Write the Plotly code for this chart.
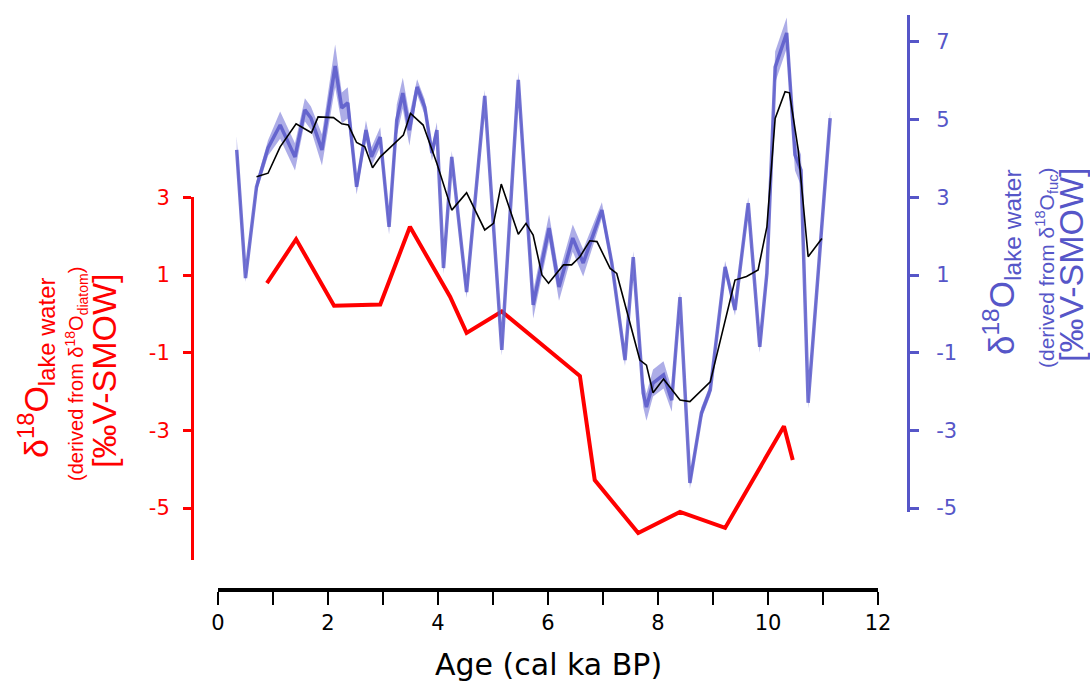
import plotly.graph_objects as go

# ---------------- data ----------------
age_fuc = [0.34, 0.50, 0.70, 0.91, 1.13, 1.40, 1.58, 1.69, 1.89, 2.13,
           2.25, 2.36, 2.52, 2.69, 2.79, 2.95, 3.11, 3.25, 3.36, 3.48,
           3.62, 3.76, 3.89, 3.98, 4.10, 4.25, 4.52, 4.85, 5.16, 5.46,
           5.73, 6.02, 6.20, 6.45, 6.64, 6.98, 7.16, 7.40, 7.55, 7.73,
           7.79, 7.91, 8.10, 8.25, 8.40, 8.58, 8.79, 8.95, 9.22, 9.40,
           9.64, 9.85, 9.98, 10.13, 10.34, 10.49, 10.60, 10.73, 11.13]
d18o_fuc = [4.22, 0.92, 3.27, 4.27, 4.86, 4.04, 5.25, 5.04, 4.22, 6.38,
            5.30, 5.43, 3.27, 4.73, 4.04, 4.55, 2.24, 4.99, 5.68, 4.73,
            5.84, 5.32, 4.14, 4.73, 1.18, 4.04, 0.56, 5.61, -0.93, 6.02,
            0.23, 2.21, 0.69, 1.95, 1.31, 2.67, 1.31, -1.19, 1.46, -2.04,
            -2.40, -1.78, -1.57, -2.22, 0.43, -4.35, -2.55, -1.96, 1.21, 0.10,
            2.85, -0.85, 1.05, 6.35, 7.23, 4.09, 3.70, -2.29, 5.04]
err_fuc = [0.35, 0.10, 0.15, 0.20, 0.35, 0.35, 0.30, 0.30, 0.40, 0.55,
           0.40, 0.40, 0.20, 0.25, 0.25, 0.25, 0.20, 0.40, 0.40, 0.40,
           0.20, 0.20, 0.20, 0.20, 0.15, 0.15, 0.15, 0.15, 0.15, 0.20,
           0.35, 0.35, 0.35, 0.35, 0.35, 0.20, 0.15, 0.15, 0.15, 0.35,
           0.35, 0.35, 0.35, 0.30, 0.15, 0.15, 0.15, 0.15, 0.15, 0.15,
           0.15, 0.15, 0.15, 0.40, 0.40, 0.40, 0.40, 0.15, 0.20]

age_smooth = [0.70, 0.91, 1.13, 1.42, 1.70, 1.82, 2.10, 2.25, 2.37, 2.52,
              2.67, 2.81, 2.95, 3.19, 3.37, 3.50, 3.73, 3.98, 4.25, 4.52,
              4.85, 5.01, 5.15, 5.46, 5.60, 5.73, 5.89, 6.01, 6.28, 6.43,
              6.58, 6.76, 6.89, 7.13, 7.25, 7.67, 7.79, 7.91, 8.10, 8.40,
              8.58, 8.95, 9.13, 9.40, 9.61, 9.82, 9.98, 10.13, 10.31, 10.39,
              10.55, 10.73, 10.98]
d18o_smooth = [3.53, 3.62, 4.30, 4.89, 4.66, 5.07, 5.05, 4.89, 4.86, 4.41,
               4.30, 3.76, 4.04, 4.35, 4.60, 5.16, 4.86, 3.87, 2.67, 3.12,
               2.16, 2.33, 3.34, 2.05, 2.33, 2.03, 1.00, 0.79, 1.26, 1.26,
               1.47, 1.88, 1.86, 1.17, 1.04, -1.19, -1.32, -2.03, -1.68, -2.22,
               -2.26, -1.75, -0.67, 0.87, 0.96, 1.13, 2.24, 5.03, 5.72, 5.69,
               4.22, 1.47, 1.94]

age_diatom = [0.89, 1.42, 2.11, 2.95, 3.49, 4.22, 4.52, 5.16, 6.58, 6.85,
              7.64, 8.40, 9.22, 10.29, 10.45]
d18o_diatom = [0.79, 1.92, 0.21, 0.24, 2.24, 0.44, -0.49, 0.06, -1.60, -4.28,
               -5.64, -5.10, -5.51, -2.89, -3.76]

left_ticks = [-5, -3, -1, 1, 3]
left_ticktext = ["-5", "-3", "-1", "1", "3"]
right_ticks = [-5, -3, -1, 1, 3, 5, 7]
right_ticktext = ["-5", "-3", "-1", "1", "3", "5", "7"]

# ---------------- layout geometry (pixels) ----------------
W_FIG, H_FIG = 1090, 684
PL, PR, PT, PB = 192, 908, 15, 590
PW, PH = PR - PL, PB - PT
X0_PX, X12_PX = 218, 878
Y1_PX, PX_PER_UNIT = 275.0, 38.85   # pixel of value 1 and px per unit (shared scale)


def val_at(py):
    return 1 - (py - Y1_PX) / PX_PER_UNIT


def pxfrac(px):
    return (px - PL) / PW


def pyfrac(py):
    return (PB - py) / PH


RED = "#ff0000"
BLUE = "#5656c8"
FONT_T = "DejaVu Sans, Verdana, sans-serif"
FONT_L = "Liberation Sans, Arial, sans-serif"

left_top_px = Y1_PX - (3 - 1) * PX_PER_UNIT
left_bot_px = 560
right_top_px = 15
right_bot_px = 512

fig = go.Figure()

# error band of fucoxanthin-derived record
band_x = age_fuc + age_fuc[::-1]
band_y = [v + e for v, e in zip(d18o_fuc, err_fuc)] + \
         [v - e for v, e in zip(d18o_fuc, err_fuc)][::-1]
fig.add_trace(go.Scatter(x=band_x, y=band_y, xaxis="x", yaxis="y2",
                         fill="toself", fillcolor="rgba(105,105,212,0.55)",
                         line=dict(width=0), mode="lines", hoverinfo="skip",
                         showlegend=False))
fig.add_trace(go.Scatter(x=age_fuc, y=d18o_fuc, xaxis="x", yaxis="y2",
                         mode="lines", line=dict(color="rgba(85,85,200,0.82)", width=3.5),
                         showlegend=False))
fig.add_trace(go.Scatter(x=age_smooth, y=d18o_smooth, xaxis="x", yaxis="y2",
                         mode="lines", line=dict(color="black", width=1.6),
                         showlegend=False))
fig.add_trace(go.Scatter(x=age_diatom, y=d18o_diatom, xaxis="x", yaxis="y",
                         mode="lines", line=dict(color=RED, width=4),
                         showlegend=False))

fig.update_layout(
    width=W_FIG, height=H_FIG,
    margin=dict(l=PL, r=W_FIG - PR, t=PT, b=H_FIG - PB, autoexpand=False),
    paper_bgcolor="white", plot_bgcolor="rgba(0,0,0,0)",
    showlegend=False,
    xaxis=dict(domain=[pxfrac(X0_PX), pxfrac(X12_PX)], range=[0, 12],
               anchor="free", position=0, automargin=False,
               showline=True, linewidth=4, linecolor="black",
               ticks="outside", ticklen=13, tickwidth=2, tickcolor="black",
               tickmode="linear", tick0=0, dtick=2,
               minor=dict(ticks="outside", dtick=1, ticklen=13, tickwidth=2,
                          tickcolor="black", showgrid=False),
               tickfont=dict(family=FONT_T, size=21, color="black"),
               showgrid=False, zeroline=False),
    yaxis=dict(domain=[pyfrac(left_bot_px), pyfrac(left_top_px)],
               range=[val_at(left_bot_px), val_at(left_top_px)],
               anchor="free", position=0, side="left", automargin=False,
               showline=True, linewidth=3, linecolor=RED,
               ticks="outside", ticklen=8, tickwidth=3, tickcolor=RED,
               tickvals=left_ticks, ticktext=left_ticktext, ticklabelstandoff=9,
               tickfont=dict(family=FONT_T, size=21, color=RED),
               showgrid=False, zeroline=False),
    yaxis2=dict(domain=[pyfrac(right_bot_px), pyfrac(right_top_px)],
                range=[val_at(right_bot_px), val_at(right_top_px)],
                anchor="free", position=1, side="right", automargin=False,
                showline=True, linewidth=3, linecolor=BLUE,
                ticks="outside", ticklen=9, tickwidth=3, tickcolor=BLUE,
                tickvals=right_ticks, ticktext=right_ticktext, ticklabelstandoff=13,
                tickfont=dict(family=FONT_T, size=21, color=BLUE),
                showgrid=False, zeroline=False),
)

annots = [
    # x title
    dict(text="Age (cal ka BP)", x=pxfrac(548), y=pyfrac(664), textangle=0,
         font=dict(family=FONT_T, size=30, color="black")),
    # left title
    dict(text="δ<sup>18</sup>O<sub>lake water</sub>", x=pxfrac(36), y=pyfrac(368),
         textangle=-90, font=dict(family=FONT_L, size=34, color=RED)),
    dict(text="(derived from δ<sup>18</sup>O<sub>diatom</sub>)", x=pxfrac(76), y=pyfrac(374),
         textangle=-90, font=dict(family=FONT_L, size=20, color=RED)),
    dict(text="[‰V-SMOW]", x=pxfrac(104), y=pyfrac(371),
         textangle=-90, font=dict(family=FONT_L, size=34, color=RED)),
    # right title
    dict(text="δ<sup>18</sup>O<sub>lake water</sub>", x=pxfrac(1001), y=pyfrac(262),
         textangle=-90, font=dict(family=FONT_L, size=35, color=BLUE)),
    dict(text="(derived from δ<sup>18</sup>O<sub>fuc</sub>)", x=pxfrac(1046), y=pyfrac(268),
         textangle=-90, font=dict(family=FONT_L, size=21, color=BLUE)),
    dict(text="[‰V-SMOW]", x=pxfrac(1071), y=pyfrac(265),
         textangle=-90, font=dict(family=FONT_L, size=34, color=BLUE)),
]
for a in annots:
    a.update(xref="paper", yref="paper", showarrow=False,
             xanchor="center", yanchor="middle")
fig.update_layout(annotations=annots)

fig.write_html("out.html", config={"displayModeBar": False},
               post_script="document.body.style.margin='0px';")
